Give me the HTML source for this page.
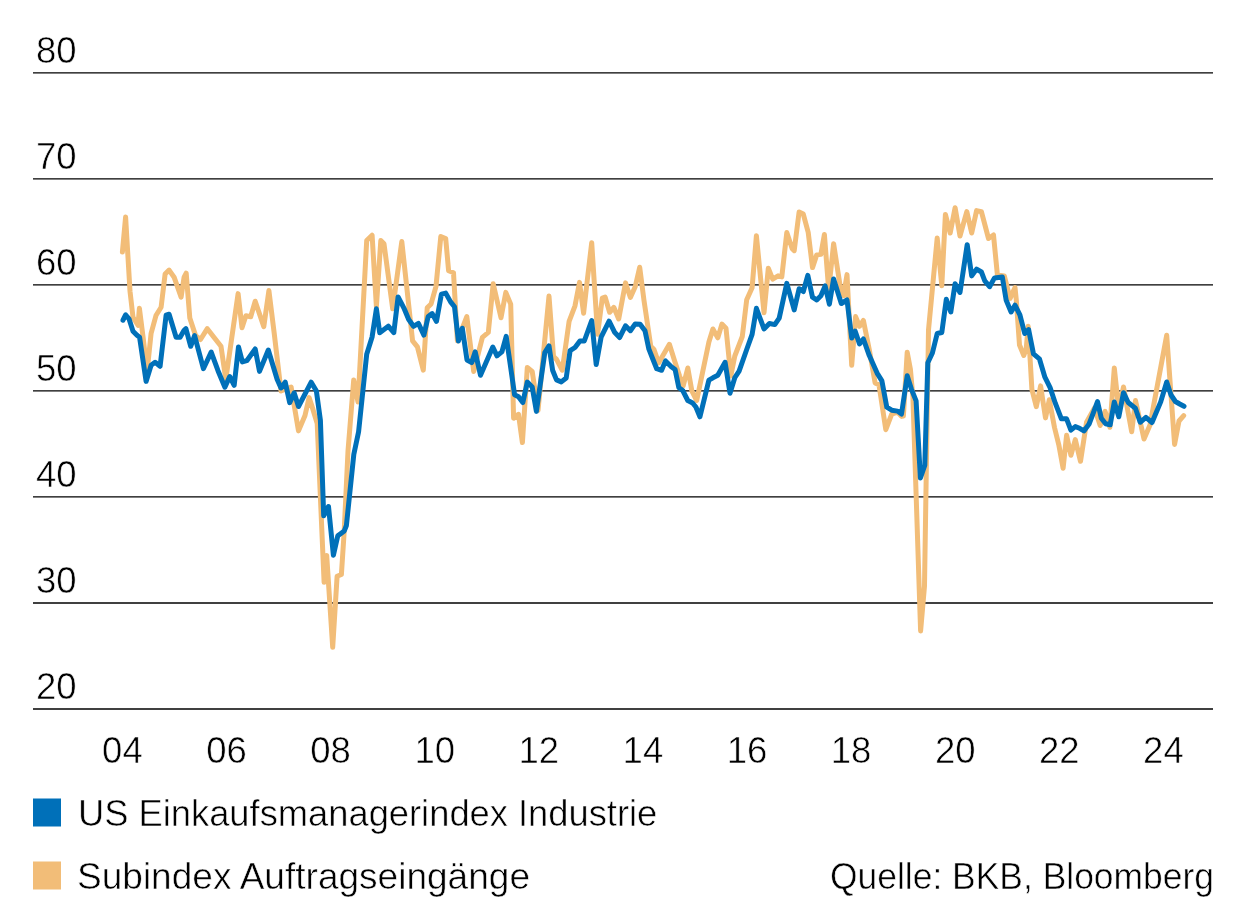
<!DOCTYPE html>
<html><head><meta charset="utf-8"><style>
html,body{margin:0;padding:0;background:#fff;}
svg{display:block;will-change:transform;}
text{font-family:"Liberation Sans",sans-serif;fill:#000;stroke:#fff;stroke-width:0.55px;}
</style></head><body>
<svg width="1246" height="923" viewBox="0 0 1246 923">
<g stroke="#000" stroke-width="1.35" fill="none"><line x1="33" y1="709.0" x2="1213" y2="709.0"/><line x1="33" y1="603.0" x2="1213" y2="603.0"/><line x1="33" y1="496.9" x2="1213" y2="496.9"/><line x1="33" y1="390.9" x2="1213" y2="390.9"/><line x1="33" y1="284.9" x2="1213" y2="284.9"/><line x1="33" y1="178.9" x2="1213" y2="178.9"/><line x1="33" y1="72.8" x2="1213" y2="72.8"/></g>
<g font-size="36.5"><text x="36" y="699.4">20</text><text x="36" y="593.4">30</text><text x="36" y="487.3">40</text><text x="36" y="381.3">50</text><text x="36" y="275.3">60</text><text x="36" y="169.3">70</text><text x="36" y="63.2">80</text></g>
<g font-size="36.5"><text x="122.4" y="762.5" text-anchor="middle">04</text><text x="226.5" y="762.5" text-anchor="middle">06</text><text x="330.6" y="762.5" text-anchor="middle">08</text><text x="434.7" y="762.5" text-anchor="middle">10</text><text x="538.8" y="762.5" text-anchor="middle">12</text><text x="642.9" y="762.5" text-anchor="middle">14</text><text x="747.0" y="762.5" text-anchor="middle">16</text><text x="851.1" y="762.5" text-anchor="middle">18</text><text x="955.2" y="762.5" text-anchor="middle">20</text><text x="1059.3" y="762.5" text-anchor="middle">22</text><text x="1163.4" y="762.5" text-anchor="middle">24</text></g>
<path d="M122.4,252.1 L125.6,217.0 L130.0,291.2 L133.0,317.2 L138.0,325.3 L139.4,308.2 L143.1,337.3 L147.1,371.4 L151.1,333.3 L156.1,315.2 L161.1,307.2 L165.1,274.1 L169.1,270.1 L174.1,277.2 L181.1,297.2 L184.1,277.2 L186.2,273.2 L189.8,318.0 L195.6,335.6 L200.5,339.5 L207.3,328.7 L214.1,337.5 L221.0,346.3 L225.8,379.4 L238.1,293.6 L242.0,327.8 L245.9,315.8 L250.7,316.8 L255.2,301.2 L263.8,326.6 L268.9,290.5 L274.1,332.4 L281.0,390.9 L291.1,387.0 L298.5,430.9 L305.0,415.5 L309.1,397.6 L312.3,407.4 L317.2,423.6 L324.1,582.3 L326.7,555.5 L332.7,647.3 L337.1,576.3 L341.4,574.5 L344.0,534.7 L348.0,451.0 L353.7,380.0 L358.0,402.0 L366.7,240.6 L372.1,235.2 L376.4,306.7 L380.8,240.6 L384.0,243.8 L392.7,308.8 L401.8,241.5 L412.6,340.9 L417.4,346.8 L423.3,370.2 L427.2,307.8 L431.1,303.9 L436.0,286.3 L440.8,236.6 L445.7,238.5 L448.6,270.7 L453.5,272.7 L457.4,340.9 L466.8,316.6 L473.7,371.4 L482.4,337.3 L488.3,332.4 L493.2,283.7 L501.0,317.8 L505.8,292.4 L510.7,304.1 L513.6,418.2 L518.5,414.3 L522.4,442.6 L527.3,367.5 L532.2,371.4 L538.0,410.4 L549.0,296.1 L553.5,356.5 L556.5,359.4 L562.3,370.2 L569.1,321.4 L575.0,305.8 L579.5,282.4 L583.6,313.2 L586.7,285.3 L591.7,242.7 L597.6,334.3 L602.3,298.0 L605.1,297.0 L609.6,312.3 L613.8,307.3 L618.7,319.0 L625.5,282.9 L630.4,297.5 L635.2,286.8 L639.7,267.3 L644.0,300.5 L650.8,346.3 L653.8,349.2 L658.6,362.9 L669.4,344.3 L674.8,361.5 L679.6,376.1 L683.2,385.9 L687.8,368.0 L691.8,390.8 L696.7,400.5 L708.9,342.0 L712.9,329.0 L717.8,337.9 L721.9,324.1 L726.0,328.2 L730.8,376.1 L734.8,356.0 L742.3,336.5 L746.7,299.7 L752.1,287.8 L756.4,235.8 L764.0,312.7 L768.3,268.3 L772.7,279.1 L778.1,275.8 L781.8,276.9 L786.8,232.5 L792.2,248.8 L794.2,250.7 L799.1,212.0 L803.3,214.1 L808.2,232.4 L812.5,267.6 L816.7,254.9 L820.9,254.2 L824.4,234.5 L828.7,290.1 L833.6,243.7 L839.9,284.5 L843.5,295.8 L847.0,274.6 L851.7,365.3 L855.6,316.6 L859.5,326.3 L863.4,320.5 L869.3,349.7 L875.1,382.9 L879.0,384.8 L885.8,429.7 L891.7,414.1 L897.5,412.1 L901.5,416.4 L903.4,416.0 L907.2,352.2 L910.4,369.3 L912.9,396.9 L920.6,631.0 L924.5,586.0 L928.5,330.0 L937.2,237.9 L941.8,285.7 L945.4,214.5 L950.2,233.0 L955.1,207.7 L960.0,236.0 L966.8,211.6 L971.7,233.0 L976.6,210.6 L981.4,211.6 L988.5,238.5 L993.5,235.0 L997.4,275.0 L1004.3,275.9 L1010.1,298.4 L1015.0,287.6 L1016.3,300.0 L1019.5,345.0 L1023.8,355.5 L1026.2,349.0 L1028.2,326.3 L1031.9,389.3 L1036.3,406.7 L1040.6,385.9 L1045.5,417.9 L1049.3,399.7 L1054.5,427.5 L1058.8,444.8 L1063.1,468.2 L1066.6,435.3 L1070.9,455.2 L1075.3,439.6 L1080.5,461.3 L1086.5,422.3 L1094.5,408.0 L1100.2,425.5 L1105.1,411.4 L1109.9,427.3 L1114.3,367.9 L1118.8,410.0 L1123.5,387.0 L1131.7,431.7 L1135.5,400.6 L1144.0,439.0 L1150.0,425.0 L1166.7,335.2 L1174.6,444.4 L1179.0,421.0 L1183.7,415.6" fill="none" stroke="#f2bd78" stroke-width="5" stroke-linejoin="round" stroke-linecap="round"/>
<path d="M123.0,320.2 L125.6,314.8 L129.0,318.8 L133.0,331.3 L137.0,335.3 L139.6,337.3 L146.1,381.4 L151.1,365.3 L155.1,362.3 L160.1,366.3 L166.1,315.2 L169.1,314.2 L176.1,337.3 L180.1,337.3 L184.1,330.3 L185.9,328.7 L190.7,346.3 L194.6,335.6 L203.4,368.7 L211.2,352.1 L218.0,370.7 L224.9,387.2 L229.7,376.5 L234.2,385.3 L238.5,346.9 L242.4,361.9 L246.8,360.7 L255.2,349.0 L259.5,371.4 L268.3,350.0 L277.1,379.2 L281.0,388.0 L285.2,382.1 L289.7,402.6 L294.2,392.9 L298.5,406.5 L311.2,382.2 L316.4,391.1 L320.4,420.4 L323.7,515.8 L328.5,506.5 L333.4,555.3 L337.8,535.8 L344.3,530.9 L346.4,525.5 L353.8,454.5 L358.6,431.8 L366.7,354.3 L372.1,337.0 L376.4,308.8 L379.7,332.7 L388.3,326.2 L393.8,332.7 L398.1,296.9 L403.8,307.8 L408.7,319.5 L413.5,326.3 L418.4,323.4 L423.9,335.1 L428.2,316.5 L432.1,313.6 L436.5,321.4 L441.4,294.1 L445.7,293.1 L450.6,301.9 L454.5,306.8 L458.4,340.9 L462.3,328.2 L467.0,360.0 L471.7,362.6 L475.2,351.9 L480.5,375.3 L492.8,347.0 L497.0,355.8 L501.9,351.9 L506.2,336.3 L514.6,394.8 L518.5,396.8 L522.8,402.6 L527.3,382.1 L532.2,387.0 L536.4,411.4 L544.8,352.6 L549.0,345.8 L552.6,370.2 L556.5,379.9 L561.3,381.9 L566.2,378.0 L570.1,350.7 L575.0,347.5 L579.9,341.0 L584.3,341.0 L591.7,320.7 L596.2,364.6 L601.1,337.2 L609.1,321.2 L614.8,332.6 L619.6,337.5 L625.5,325.8 L630.4,330.7 L635.2,323.9 L640.1,324.2 L645.0,330.7 L648.9,349.2 L652.8,359.0 L656.7,368.7 L661.6,370.3 L665.5,360.9 L671.3,366.8 L675.1,369.6 L678.8,387.5 L682.9,390.8 L687.8,400.5 L692.6,403.0 L695.9,407.0 L699.9,416.8 L708.9,380.2 L712.9,377.8 L717.8,375.3 L725.1,362.3 L730.0,393.2 L734.8,377.7 L739.1,371.2 L746.7,349.5 L752.1,334.3 L756.4,308.3 L764.0,328.9 L769.4,323.5 L774.8,324.6 L779.2,318.1 L786.8,283.4 L794.2,309.9 L799.1,288.7 L803.3,291.5 L807.8,275.4 L812.5,297.2 L816.7,300.0 L820.9,295.8 L825.1,285.9 L829.4,304.2 L833.6,278.9 L841.3,303.5 L847.0,300.0 L851.7,338.0 L855.2,331.2 L859.5,343.9 L863.4,339.0 L869.3,355.6 L877.1,373.1 L881.9,380.9 L886.8,407.2 L891.7,410.2 L897.5,411.1 L901.5,414.0 L907.2,375.8 L911.3,388.8 L916.1,400.9 L920.4,478.0 L924.8,465.1 L927.8,362.8 L932.4,353.0 L937.2,333.5 L941.8,332.5 L946.3,299.3 L950.8,312.0 L955.1,283.7 L960.0,292.5 L967.2,244.7 L971.7,275.9 L976.6,269.1 L981.4,272.0 L984.8,280.8 L989.6,286.7 L994.5,277.9 L1002.3,276.9 L1006.2,300.3 L1011.1,312.0 L1015.0,305.2 L1019.9,314.9 L1024.7,333.5 L1028.6,329.6 L1033.5,353.9 L1039.4,358.8 L1044.9,377.2 L1050.1,387.6 L1055.3,403.2 L1061.4,418.8 L1066.6,418.8 L1070.9,430.1 L1075.3,426.6 L1079.6,428.3 L1083.9,430.9 L1089.1,424.0 L1093.7,411.8 L1097.5,401.5 L1101.3,418.3 L1105.6,423.7 L1110.2,424.8 L1114.3,402.0 L1118.8,416.8 L1123.5,392.7 L1128.2,402.5 L1135.4,408.2 L1140.2,422.3 L1145.9,417.4 L1152.0,422.5 L1160.7,401.9 L1166.7,382.0 L1171.0,395.0 L1175.4,401.5 L1179.7,404.0 L1184.0,406.3" fill="none" stroke="#0070b9" stroke-width="5" stroke-linejoin="round" stroke-linecap="round"/>
<rect x="33" y="798.5" width="28" height="28" fill="#0070b9"/>
<rect x="33" y="861.5" width="28" height="28" fill="#f2bd78"/>
<g font-size="37.5">
<text x="78" y="825.8" textLength="579.3" lengthAdjust="spacingAndGlyphs">US Einkaufsmanagerindex Industrie</text>
<text x="77" y="888.5" textLength="453" lengthAdjust="spacingAndGlyphs">Subindex Auftragseingänge</text>
<text x="1214" y="888.5" text-anchor="end" textLength="384" lengthAdjust="spacingAndGlyphs">Quelle: BKB, Bloomberg</text>
</g>
</svg>
</body></html>
